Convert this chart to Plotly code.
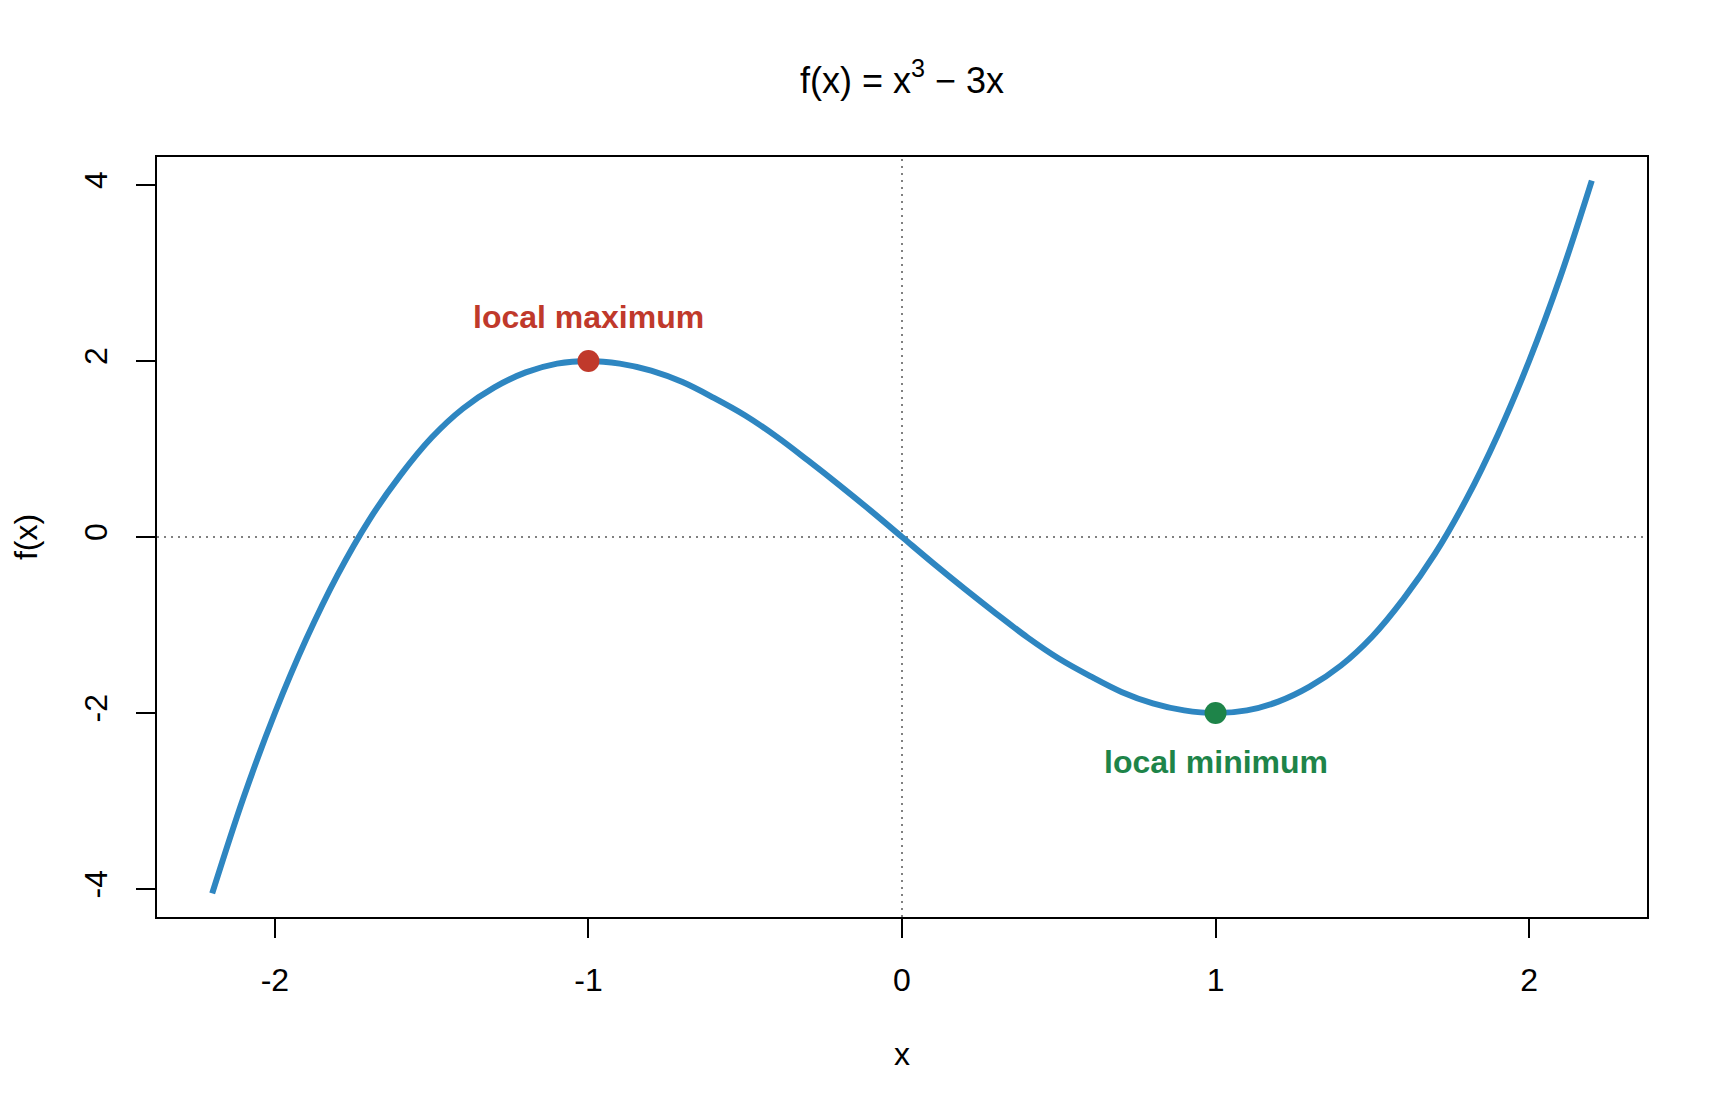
import plotly.graph_objects as go

x_vals = [-2.2, -2.1, -2.0, -1.9, -1.8, -1.7, -1.6, -1.5, -1.4, -1.3, -1.2, -1.1, -1.0,
          -0.9, -0.8, -0.7, -0.6, -0.5, -0.4, -0.3, -0.2, -0.1, 0.0,
          0.1, 0.2, 0.3, 0.4, 0.5, 0.6, 0.7, 0.8, 0.9, 1.0,
          1.1, 1.2, 1.3, 1.4, 1.5, 1.6, 1.7, 1.8, 1.9, 2.0, 2.1, 2.2]
y_vals = [-4.05, -2.96, -2.00, -1.16, -0.43, 0.19, 0.70, 1.13, 1.46, 1.70, 1.87, 1.97, 2.00,
          1.97, 1.89, 1.76, 1.58, 1.38, 1.14, 0.87, 0.59, 0.30, 0.00,
          -0.30, -0.59, -0.87, -1.14, -1.38, -1.58, -1.76, -1.89, -1.97, -2.00,
          -1.97, -1.87, -1.70, -1.46, -1.13, -0.70, -0.19, 0.43, 1.16, 2.00, 2.96, 4.05]

max_x, max_y = [-1.0], [2.0]
min_x, min_y = [1.0], [-2.0]

x_ticks = [-2, -1, 0, 1, 2]
y_ticks = [-4, -2, 0, 2, 4]

BLUE = '#2E86C1'
RED = '#C0392B'
GREEN = '#1E8449'
FONT = 'Liberation Sans, Arial, sans-serif'

# page body has an 8px margin, so the figure is a bit smaller than the window
W, H = 1712, 1097

fig = go.Figure()

fig.add_trace(go.Scatter(x=x_vals, y=y_vals, mode='lines', line=dict(color=BLUE, width=6, shape='spline'),
                         showlegend=False, hoverinfo='skip'))
fig.add_trace(go.Scatter(x=max_x, y=max_y, mode='markers', marker=dict(color=RED, size=22), showlegend=False))
fig.add_trace(go.Scatter(x=min_x, y=min_y, mode='markers', marker=dict(color=GREEN, size=22), showlegend=False))

# dotted reference lines through the origin
fig.add_hline(y=0, line=dict(color='#808080', width=2, dash='2px,5px'), layer='below')
fig.add_vline(x=0, line=dict(color='#808080', width=2, dash='2px,5px'), layer='below')

fig.add_annotation(x=max_x[0], y=max_y[0] + 0.5, text='<b>local maximum</b>', showarrow=False,
                   font=dict(color=RED, size=32, family=FONT))
fig.add_annotation(x=min_x[0], y=min_y[0] - 0.56, text='<b>local minimum</b>', showarrow=False,
                   font=dict(color=GREEN, size=32, family=FONT))

axis_common = dict(showgrid=False, zeroline=False, showline=True, linecolor='black', linewidth=2,
                   mirror=True, ticks='outside', ticklen=19, tickwidth=2, tickcolor='black',
                   tickfont=dict(size=32, color='black', family=FONT))

fig.update_layout(
    width=W, height=H,
    margin=dict(l=149, r=73, t=149, b=188),
    plot_bgcolor='white', paper_bgcolor='white',
    font=dict(family=FONT, color='black', size=32),
    title=dict(text='f(x) = x<sup>3</sup> \u2212 3x', x=0.5, xref='paper', y=1 - 72 / H, yanchor='middle',
               font=dict(size=36, color='black', family=FONT)),
    xaxis=dict(range=[-2.376, 2.376], tickvals=x_ticks, ticktext=[str(v) for v in x_ticks],
               ticklabelstandoff=15,
               title=dict(text='x', font=dict(size=32, family=FONT), standoff=45), **axis_common),
    yaxis=dict(range=[-4.318, 4.318], tickvals=y_ticks, ticktext=[str(v) for v in y_ticks], tickangle=-90,
               ticklabelstandoff=16,
               title=dict(text='f(x)', font=dict(size=32, family=FONT), standoff=37), **axis_common),
)

fig.write_html('out.html')
